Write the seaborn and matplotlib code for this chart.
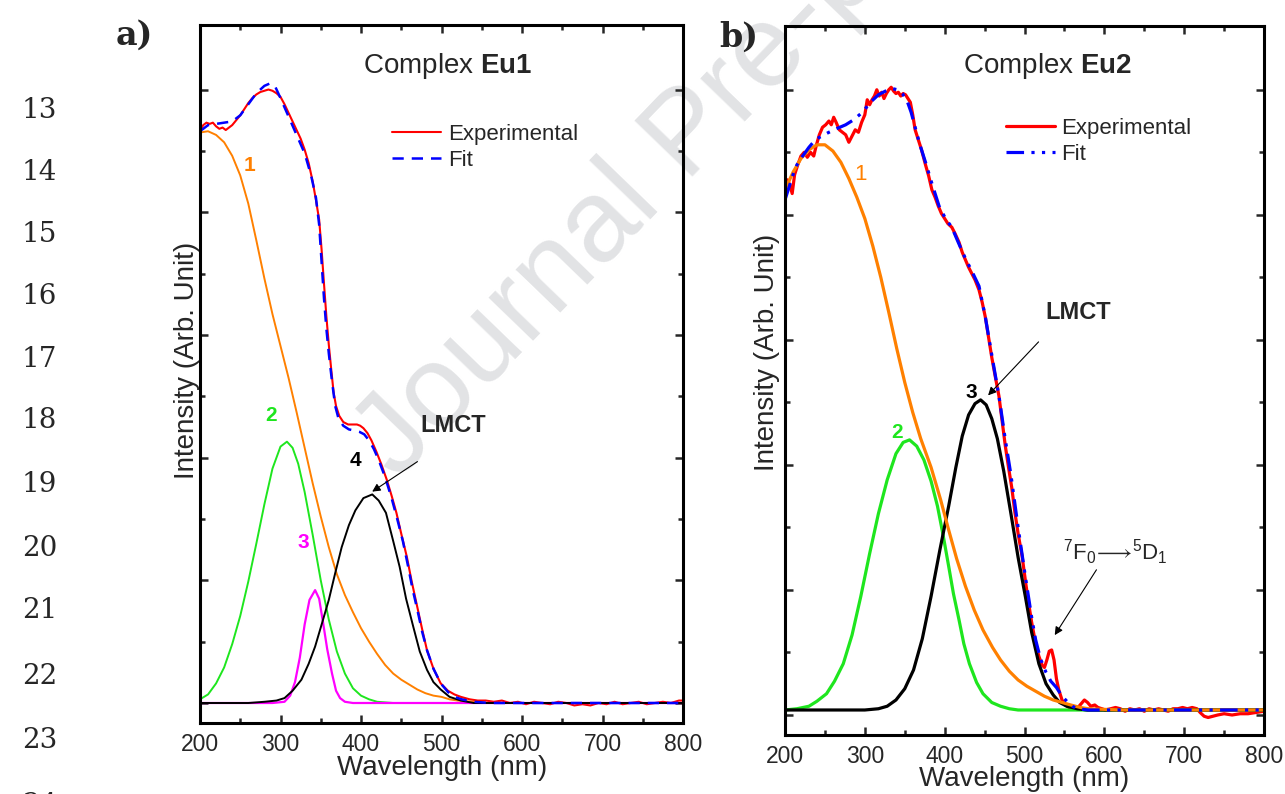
import matplotlib
matplotlib.use("Agg")
import matplotlib.pyplot as plt
import seaborn as sns

# ---------------- data: panel a (complex Eu1) ----------------
wl_exp_a = [200, 204, 208, 212, 216, 220, 224, 228, 232, 236, 240, 245, 250, 255, 260, 265, 270, 275,
            280, 285, 290, 295, 300, 305, 310, 315, 320, 325, 330, 335, 340, 344, 348, 351, 354, 357,
            360, 363, 366, 369, 373, 378, 384, 390, 395, 399, 403, 408, 413, 419, 425, 432, 438, 444,
            450, 457, 463, 470, 476, 482, 490, 499, 508, 516, 524, 535, 545, 555, 565, 575, 585, 595,
            605, 615, 625, 635, 645, 655, 665, 675, 685, 695, 705, 715, 725, 735, 745, 755, 765, 775,
            785, 795, 800]
int_exp_a = [4.66, 4.71, 4.73, 4.72, 4.73, 4.70, 4.68, 4.69, 4.67, 4.69, 4.71, 4.75, 4.79, 4.84, 4.89,
             4.93, 4.96, 4.98, 4.99, 5.00, 4.99, 4.97, 4.94, 4.88, 4.81, 4.74, 4.67, 4.60, 4.51, 4.40,
             4.25, 4.10, 3.94, 3.70, 3.42, 3.15, 2.92, 2.72, 2.53, 2.42, 2.34, 2.29, 2.27, 2.27, 2.27,
             2.26, 2.24, 2.20, 2.14, 2.05, 1.95, 1.82, 1.69, 1.55, 1.38, 1.19, 0.99, 0.78, 0.60, 0.43,
             0.28, 0.16, 0.10, 0.07, 0.05, 0.03, 0.02, 0.02, 0.01, 0.02, 0.00, 0.01, -0.01, 0.01, 0.00,
             -0.01, 0.01, 0.00, -0.02, -0.01, -0.02, 0.00, -0.01, 0.01, -0.01, 0.00, 0.01, -0.01, 0.00,
             0.01, 0.00, 0.02, 0.02]

wl_fit_a = [200, 210, 220, 230, 240, 250, 260, 270, 280, 287, 293, 300, 310, 320, 330, 338, 344, 348,
            351, 354, 357, 360, 364, 368, 372, 378, 385, 392, 398, 404, 410, 416, 422, 430, 438, 445,
            452, 458, 464, 470, 476, 482, 490, 499, 508, 516, 525, 540, 560, 600, 700, 800]
int_fit_a = [4.66, 4.71, 4.72, 4.73, 4.74, 4.79, 4.88, 4.97, 5.03, 5.05, 5.03, 4.93, 4.78, 4.63, 4.48,
             4.30, 4.12, 3.90, 3.60, 3.30, 3.05, 2.85, 2.62, 2.42, 2.32, 2.26, 2.23, 2.22, 2.21, 2.19,
             2.14, 2.07, 1.98, 1.84, 1.67, 1.50, 1.32, 1.13, 0.93, 0.76, 0.58, 0.43, 0.28, 0.16, 0.09,
             0.05, 0.03, 0.01, 0.00, 0.00, 0.00, 0.00]

wl_p1_a = [200, 210, 220, 230, 240, 250, 260, 270, 280, 290, 300, 310, 320, 330, 340, 350, 360, 370,
           380, 390, 400, 410, 420, 430, 440, 450, 460, 470, 480, 490, 500, 510, 520, 540, 560, 800]
int_p1_a = [4.65, 4.66, 4.63, 4.57, 4.46, 4.30, 4.07, 3.77, 3.46, 3.17, 2.91, 2.65, 2.37, 2.08, 1.79,
            1.52, 1.27, 1.05, 0.88, 0.74, 0.61, 0.50, 0.40, 0.31, 0.24, 0.19, 0.15, 0.11, 0.08, 0.06,
            0.05, 0.03, 0.02, 0.01, 0.00, 0.00]

wl_p2_a = [200, 210, 220, 230, 240, 250, 260, 270, 280, 290, 300, 308, 315, 322, 330, 340, 350, 360,
           370, 380, 390, 400, 410, 420, 440, 800]
int_p2_a = [0.03, 0.07, 0.16, 0.29, 0.48, 0.71, 0.99, 1.30, 1.62, 1.91, 2.09, 2.13, 2.08, 1.95, 1.72,
            1.37, 1.00, 0.68, 0.42, 0.24, 0.12, 0.06, 0.03, 0.01, 0.00, 0.00]

wl_p3_a = [200, 290, 305, 312, 318, 324, 330, 336, 343, 348, 353, 358, 364, 369, 374, 380, 390, 800]
int_p3_a = [0.00, 0.00, 0.01, 0.06, 0.17, 0.37, 0.64, 0.84, 0.92, 0.85, 0.65, 0.44, 0.24, 0.10, 0.04,
            0.01, 0.00, 0.00]

wl_p4_a = [200, 260, 280, 295, 305, 315, 326, 335, 343, 352, 360, 368, 376, 385, 393, 403, 414, 422,
           431, 440, 448, 456, 465, 473, 482, 490, 499, 510, 524, 540, 800]
int_p4_a = [0.00, 0.00, 0.01, 0.02, 0.04, 0.10, 0.19, 0.32, 0.46, 0.66, 0.84, 1.06, 1.27, 1.45, 1.57,
            1.67, 1.70, 1.65, 1.55, 1.32, 1.11, 0.85, 0.62, 0.42, 0.27, 0.17, 0.11, 0.05, 0.02, 0.00,
            0.00]

# ---------------- data: panel b (complex Eu2) ----------------
wl_exp_b = [200, 203, 206, 209, 212, 216, 220, 224, 228, 232, 236, 239, 243, 247, 251, 255, 258, 261,
            264, 268, 272, 276, 280, 284, 288, 292, 296, 300, 303, 306, 309, 312, 315, 318, 321, 324,
            327, 330, 333, 336, 339, 342, 345, 348, 351, 354, 357, 360, 363, 367, 371, 376, 380, 384,
            388, 392, 396, 400, 404, 409, 413, 418, 422, 426, 430, 434, 438, 443, 447, 451, 455, 459,
            463, 468, 472, 476, 480, 484, 488, 492, 497, 501, 505, 509, 514, 518, 522, 525, 528, 531,
            534, 537, 540, 543, 547, 551, 556, 562, 567, 571, 575, 579, 583, 588, 592, 597, 601, 608,
            614, 620, 626, 632, 638, 644, 650, 656, 662, 668, 674, 680, 686, 692, 698, 704, 710, 716,
            720, 725, 730, 736, 742, 750, 760, 770, 780, 790, 800]
int_exp_b = [4.20, 4.28, 4.24, 4.17, 4.32, 4.40, 4.47, 4.50, 4.46, 4.50, 4.47, 4.55, 4.64, 4.70, 4.72,
             4.75, 4.72, 4.78, 4.74, 4.68, 4.66, 4.64, 4.58, 4.63, 4.68, 4.66, 4.74, 4.80, 4.92, 4.88,
             4.92, 4.95, 5.00, 4.95, 4.98, 4.93, 4.97, 5.00, 5.02, 4.99, 4.97, 4.98, 4.95, 4.97, 4.96,
             4.93, 4.90, 4.80, 4.68, 4.60, 4.52, 4.40, 4.31, 4.20, 4.14, 4.07, 4.01, 3.97, 3.93, 3.90,
             3.85, 3.78, 3.70, 3.64, 3.58, 3.53, 3.48, 3.40, 3.30, 3.18, 3.02, 2.86, 2.72, 2.55, 2.35,
             2.15, 1.98, 1.82, 1.62, 1.45, 1.27, 1.08, 0.90, 0.74, 0.57, 0.47, 0.40, 0.38, 0.44, 0.51,
             0.52, 0.44, 0.29, 0.20, 0.12, 0.08, 0.06, 0.05, 0.06, 0.09, 0.12, 0.10, 0.07, 0.08, 0.06,
             0.05, 0.04, 0.05, 0.06, 0.05, 0.03, 0.05, 0.04, 0.05, 0.03, 0.05, 0.04, 0.05, 0.04, 0.03,
             0.05, 0.05, 0.06, 0.05, 0.06, 0.05, 0.02, -0.01, -0.02, -0.01, 0.00, 0.01, 0.00, 0.01,
             0.01, 0.02, 0.03]

wl_fit_b = [200, 205, 210, 215, 221, 230, 238, 246, 255, 265, 276, 286, 297, 307, 317, 326, 334, 341,
            347, 353, 358, 363, 369, 376, 384, 393, 401, 409, 417, 426, 434, 443, 451, 459, 468, 476,
            483, 492, 501, 509, 514, 520, 527, 533, 540, 547, 553, 560, 566, 580, 800]
int_fit_b = [4.12, 4.22, 4.32, 4.40, 4.46, 4.54, 4.60, 4.63, 4.66, 4.69, 4.72, 4.76, 4.82, 4.90, 4.96,
             4.99, 5.01, 5.00, 4.97, 4.91, 4.82, 4.70, 4.56, 4.42, 4.25, 4.07, 3.97, 3.90, 3.78, 3.65,
             3.55, 3.43, 3.18, 2.88, 2.55, 2.20, 1.92, 1.50, 1.11, 0.78, 0.60, 0.45, 0.34, 0.27, 0.22,
             0.15, 0.11, 0.07, 0.05, 0.04, 0.04]

wl_p1_b = [200, 210, 220, 230, 240, 250, 260, 270, 280, 290, 300, 310, 320, 330, 340, 350, 360, 370,
           383, 395, 405, 415, 426, 437, 448, 460, 470, 481, 492, 503, 514, 525, 536, 547, 558, 570,
           580, 600, 623, 800]
int_p1_b = [4.20, 4.34, 4.45, 4.52, 4.56, 4.56, 4.51, 4.42, 4.29, 4.14, 3.97, 3.75, 3.50, 3.22, 2.93,
            2.66, 2.42, 2.21, 1.98, 1.72, 1.48, 1.25, 1.03, 0.84, 0.68, 0.54, 0.44, 0.35, 0.28, 0.23,
            0.19, 0.15, 0.12, 0.10, 0.08, 0.06, 0.05, 0.045, 0.04, 0.04]

wl_p2_b = [200, 215, 230, 240, 252, 262, 273, 284, 295, 306, 317, 328, 339, 348, 356, 365, 374, 383,
           391, 398, 405, 411, 418, 424, 431, 440, 448, 459, 470, 481, 492, 800]
int_p2_b = [0.04, 0.05, 0.07, 0.11, 0.17, 0.27, 0.41, 0.64, 0.95, 1.29, 1.61, 1.88, 2.09, 2.18, 2.20,
            2.15, 2.04, 1.87, 1.67, 1.44, 1.19, 0.97, 0.76, 0.57, 0.41, 0.26, 0.17, 0.10, 0.07, 0.05,
            0.04, 0.04]

wl_p3_b = [200, 300, 317, 328, 339, 350, 361, 372, 383, 394, 405, 414, 422, 430, 438, 445, 452, 459,
           466, 474, 483, 492, 501, 509, 518, 527, 536, 544, 553, 566, 579, 800]
int_p3_b = [0.04, 0.04, 0.05, 0.07, 0.12, 0.21, 0.36, 0.61, 0.95, 1.32, 1.67, 1.98, 2.23, 2.40, 2.49,
            2.52, 2.48, 2.37, 2.21, 1.95, 1.61, 1.26, 0.95, 0.66, 0.41, 0.25, 0.16, 0.10, 0.07, 0.05,
            0.04, 0.04]

x_ticks = [200, 300, 400, 500, 600, 700, 800]
line_numbers = ["13", "14", "15", "16", "17", "18", "19", "20", "21", "22", "23", "24"]
line_number_y = [110, 172, 234, 296, 359, 421, 484, 548, 610, 676, 740, 805]

RED = "#ff0000"
BLUE = "#0000ff"
ORANGE = "#ff8000"
GREEN = "#1ee61e"
MAGENTA = "#ff00ff"

sns.set_style("ticks")
plt.rcParams["font.family"] = ["Liberation Sans", "DejaVu Sans"]
plt.rcParams["mathtext.fontset"] = "custom"
plt.rcParams["mathtext.rm"] = "Liberation Sans"
plt.rcParams["mathtext.it"] = "Liberation Sans:italic"
plt.rcParams["mathtext.bf"] = "Liberation Sans:bold"

fig = plt.figure(figsize=(12.85, 7.94), dpi=100)
ax_a = fig.add_axes([200 / 1285, 1 - 723 / 794, 483 / 1285, 698 / 794])
ax_b = fig.add_axes([785 / 1285, 1 - 735 / 794, 479 / 1285, 709 / 794])


def style_axes(ax, ylim):
    ax.patch.set_alpha(0)
    ax.set_xlim(200, 800)
    ax.set_ylim(*ylim)
    ax.set_xticks(x_ticks)
    ax.set_xticks(range(250, 800, 100), minor=True)
    ax.set_yticks([0, 1, 2, 3, 4, 5])
    ax.set_yticks([0.5, 1.5, 2.5, 3.5, 4.5], minor=True)
    ax.tick_params(which="both", direction="in", top=True, right=True, width=1.8,
                   labelleft=False, labelsize=16.5, pad=7)
    ax.tick_params(which="major", length=6)
    ax.tick_params(which="minor", length=3.5)
    for sp in ax.spines.values():
        sp.set_linewidth(2.2)
        sp.set_color("black")
    ax.set_xlabel("Wavelength (nm)", fontsize=20)
    ax.set_ylabel("Intensity (Arb. Unit)", fontsize=20)


# ---- panel a ----
sns.lineplot(x=wl_exp_a, y=int_exp_a, ax=ax_a, color=RED, lw=1.5, label="Experimental")
sns.lineplot(x=wl_p1_a, y=int_p1_a, ax=ax_a, color=ORANGE, lw=1.4)
sns.lineplot(x=wl_p2_a, y=int_p2_a, ax=ax_a, color=GREEN, lw=1.4)
sns.lineplot(x=wl_p3_a, y=int_p3_a, ax=ax_a, color=MAGENTA, lw=1.6)
sns.lineplot(x=wl_p4_a, y=int_p4_a, ax=ax_a, color="black", lw=1.4)
sns.lineplot(x=wl_fit_a, y=int_fit_a, ax=ax_a, color=BLUE, lw=1.8, label="Fit",
             linestyle=(0, (4.5, 3.2)))
style_axes(ax_a, (-0.163, 5.526))
ax_a.xaxis.set_label_coords(0.501, -0.046)
ax_a.yaxis.set_label_coords(0.0, 0.519)
ax_a.legend(loc="upper left", bbox_to_anchor=(0.398, 0.858), frameon=False, fontsize=16,
            handlelength=2.2, handletextpad=0.3, labelspacing=0.2, borderpad=0, borderaxespad=0)
ax_a.text(508, 5.19, r"Complex $\mathbf{Eu1}$", fontsize=20, ha="center", va="center")
ax_a.text(262, 4.38, "1", color=ORANGE, fontsize=15, fontweight="bold", ha="center", va="center")
ax_a.text(288, 2.34, "2", color=GREEN, fontsize=15, fontweight="bold", ha="center", va="center")
ax_a.text(328, 1.31, "3", color=MAGENTA, fontsize=15, fontweight="bold", ha="center", va="center")
ax_a.text(393, 1.98, "4", color="black", fontsize=15, fontweight="bold", ha="center", va="center")
ax_a.text(514, 2.26, "LMCT", fontsize=17, fontweight="bold", ha="center", va="center")
ax_a.annotate("", xy=(411, 1.71), xytext=(473, 1.98),
              arrowprops=dict(arrowstyle="-|>", lw=0.8, color="black", mutation_scale=12))

# ---- panel b ----
sns.lineplot(x=wl_exp_b, y=int_exp_b, ax=ax_b, color=RED, lw=2.3, label="Experimental")
sns.lineplot(x=wl_p2_b, y=int_p2_b, ax=ax_b, color=GREEN, lw=2.3)
sns.lineplot(x=wl_p3_b, y=int_p3_b, ax=ax_b, color="black", lw=2.3)
sns.lineplot(x=wl_p1_b, y=int_p1_b, ax=ax_b, color=ORANGE, lw=2.3)
sns.lineplot(x=wl_fit_b, y=int_fit_b, ax=ax_b, color=BLUE, lw=2.3, label="Fit",
             linestyle=(0, (5.5, 2.3, 1, 2.3, 1, 2.3)))
style_axes(ax_b, (-0.16, 5.51))
ax_b.xaxis.set_label_coords(0.5, -0.044)
ax_b.yaxis.set_label_coords(-0.010, 0.540)
ax_b.legend(loc="upper left", bbox_to_anchor=(0.461, 0.870), frameon=False, fontsize=16,
            handlelength=2.2, handletextpad=0.3, labelspacing=0.2, borderpad=0, borderaxespad=0)
ax_b.text(529, 5.19, r"Complex $\mathbf{Eu2}$", fontsize=20, ha="center", va="center")
ax_b.text(295, 4.32, "1", color=ORANGE, fontsize=16, ha="center", va="center")
ax_b.text(340, 2.26, "2", color=GREEN, fontsize=15, fontweight="bold", ha="center", va="center")
ax_b.text(434, 2.58, "3", color="black", fontsize=15, fontweight="bold", ha="center", va="center")
ax_b.text(567, 3.22, "LMCT", fontsize=17, fontweight="bold", ha="center", va="center")
ax_b.annotate("", xy=(452, 2.54), xytext=(520, 3.0),
              arrowprops=dict(arrowstyle="-|>", lw=0.8, color="black", mutation_scale=12))
ax_b.text(614, 1.30, r"$^{7}\mathrm{F}_{0}\!\longrightarrow\!{}^{5}\mathrm{D}_{1}$",
          fontsize=16, ha="center", va="center")
ax_b.annotate("", xy=(536, 0.62), xytext=(592, 1.18),
              arrowprops=dict(arrowstyle="-|>", lw=0.8, color="black", mutation_scale=12))

# ---- page decorations: panel letters, line numbers, watermark ----
fig.text(134 / 1285, 1 - 35 / 794, "a)", fontsize=24, fontweight="bold", family="DejaVu Serif",
         ha="center", va="center")
fig.text(739 / 1285, 1 - 37 / 794, "b)", fontsize=24, fontweight="bold", family="DejaVu Serif",
         ha="center", va="center")
for lab, yy in zip(line_numbers, line_number_y):
    fig.text(22 / 1285, 1 - yy / 794, lab, fontsize=20, family="DejaVu Serif", ha="left", va="center")
fig.text(0.536, 0.829, "Journal Pre-proof", fontsize=84, color="#e2e3e5", rotation=46,
         ha="center", va="center", rotation_mode="anchor", zorder=-1)

fig.savefig("out.png", dpi=100)
